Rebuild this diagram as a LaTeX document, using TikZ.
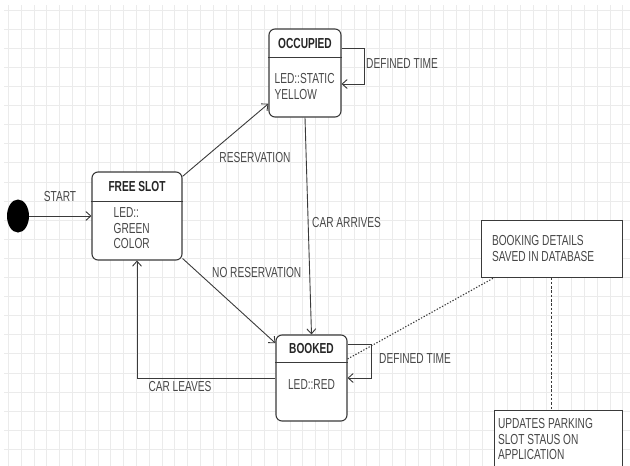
\documentclass[tikz,border=0pt]{standalone}
\usepackage{fontspec}
\setmainfont[FakeStretch=0.7]{Liberation Sans}
\usepackage{xcolor}
\usetikzlibrary{shapes.geometric, arrows.meta, positioning}

\definecolor{gridgray}{HTML}{EBEBEB}
\definecolor{linegray}{HTML}{3A3A3A}
\definecolor{textgray}{HTML}{474747}

\begin{document}
\begin{tikzpicture}[
    x=1pt, y=-1pt,
    every node/.style={font=\fontsize{14.5}{15.5}\selectfont, text=textgray},
    state/.style={rectangle, draw=linegray, line width=1.1pt, fill=white, rounded corners=6pt, inner sep=0pt},
    head/.style={font=\fontsize{14.5}{15.5}\selectfont\bfseries, text=black!85, inner sep=0pt},
    body/.style={align=left, inner sep=0pt},
    lbl/.style={inner sep=0pt},
    note/.style={rectangle, draw=linegray, line width=1pt, fill=white, align=left},
    arrow/.style={draw=linegray, line width=0.9pt, -{Straight Barb[length=5pt, width=9pt]}},
    divider/.style={draw=linegray, line width=1.1pt},
    gridline/.style={draw=gridgray, line width=0.7pt},
    dotline/.style={draw=linegray, line width=1.1pt, dash pattern=on 1.3pt off 1.7pt},
    dashline/.style={draw=linegray, line width=1pt, dash pattern=on 2.5pt off 1.8pt}
]
\useasboundingbox (0,0) rectangle (630,466);
\clip (0,0) rectangle (630,466);

% Background grid
\foreach \gx in {0,...,48} \draw[gridline] ({8.3+12.8*\gx},5) -- ({8.3+12.8*\gx},466);
\foreach \gy in {0,...,23} \draw[gridline] (4,{10+19.1*\gy}) -- (630,{10+19.1*\gy});

% States
\node [ellipse, fill=black, minimum width=22pt, minimum height=33pt, inner sep=0pt] (init) at (18,216) {};
\node [state, minimum width=90pt, minimum height=88pt] (free) at (137,216) {};
\node [state, minimum width=72pt, minimum height=88pt] (occ) at (305,73) {};
\node [state, minimum width=71pt, minimum height=86pt] (booked) at (311.5,378) {};

\draw [divider] ([yshift=-30pt]free.north west) -- ([yshift=-30pt]free.north east);
\draw [divider] ([yshift=-29pt]occ.north west) -- ([yshift=-29pt]occ.north east);
\draw [divider] ([yshift=-28pt]booked.north west) -- ([yshift=-28pt]booked.north east);

\node [head] (free_head) at ([yshift=-15pt]free.north) {FREE SLOT};
\node [head] (occ_head) at ([yshift=-15pt]occ.north) {OCCUPIED};
\node [head] (booked_head) at ([yshift=-14pt]booked.north) {BOOKED};

\node [body, anchor=north west] (free_body) at ([xshift=22pt, yshift=-36pt]free.north west) {LED::\\GREEN\\COLOR};
\node [body, anchor=north west] (occ_body) at ([xshift=6pt, yshift=-45pt]occ.north west) {LED::STATIC\\YELLOW};
\node [body, anchor=base] (booked_body) at ([yshift=-55pt]booked.north) {LED::RED};

% Notes
\node [note, minimum width=141pt, minimum height=57pt, text width=119pt, inner xsep=11pt] (db) at (551.5,248.5) {\spaceskip=0pt\relax BOOKING DETAILS\\SAVED IN DATABASE};
\node [note, anchor=north, text width=120pt, inner xsep=4pt, inner ysep=8pt] (app) at (558,410) {\spaceskip=0pt\relax UPDATES PARKING\\SLOT STAUS ON\\APPLICATION};

% Arrows
\draw [arrow] (init) -- (free);
\draw [arrow] (free.41) -- (occ.220);
\draw [arrow] (free.-43) -- (booked.136);
\draw [arrow] (occ.south) -- (booked.north);
\draw [arrow] (booked.west) -| (free.south);
\draw [arrow] ([yshift=25pt]occ.east) -- ++(23,0) |- ([yshift=-11pt]occ.east);
\draw [arrow] ([yshift=34pt]booked.east) -- ++(24,0) |- (booked.east);

\draw [dotline] ([yshift=19pt]booked.east) -- ([xshift=14pt]db.south west);
\draw [dashline] (db.south) -- (db.south |- app.north);

% Labels
\node [lbl] (start_lbl) at (60,197) {START};
\node [lbl] (res_lbl) at (255,158) {RESERVATION};
\node [lbl, anchor=west] (nores_lbl) at (212,273) {NO RESERVATION};
\node [lbl, anchor=west] (arrives_lbl) at (312,223) {CAR ARRIVES};
\node [lbl] (leaves_lbl) at (180,387) {CAR LEAVES};
\node [lbl, anchor=west] (occ_time_lbl) at (366,64) {DEFINED TIME};
\node [lbl, anchor=west] (booked_time_lbl) at (379,359) {DEFINED TIME};

\end{tikzpicture}
\end{document}
